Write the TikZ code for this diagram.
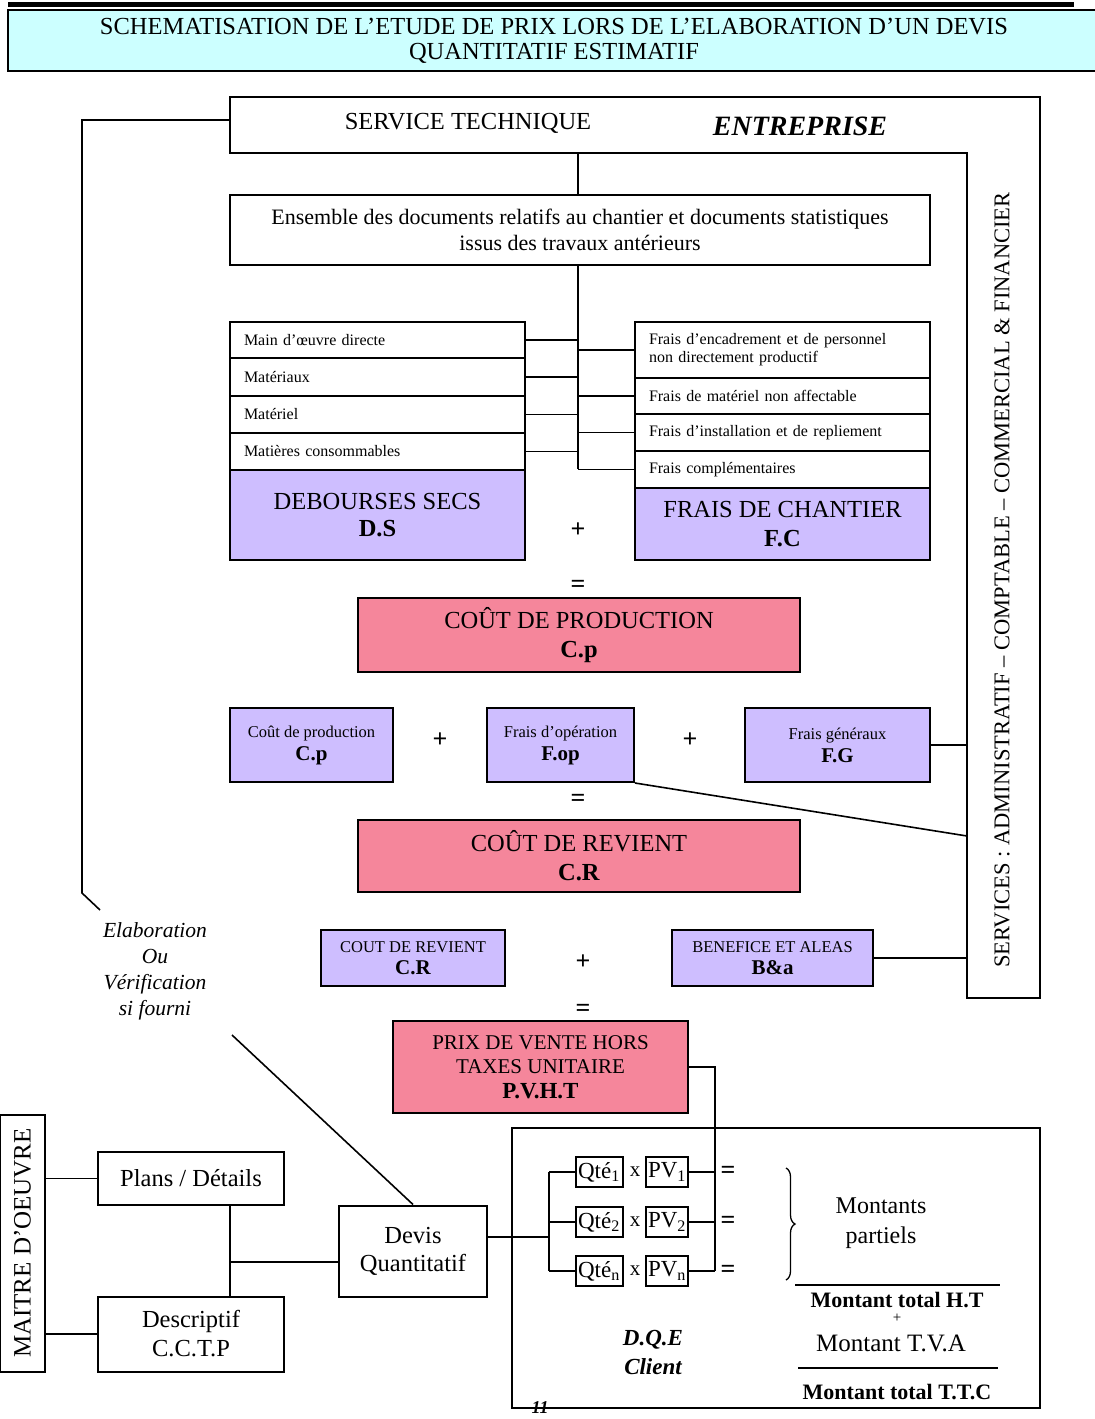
\documentclass[tikz,border=0pt]{standalone}
\usepackage{fontspec}
\setmainfont{Liberation Serif}
\usetikzlibrary{decorations.pathreplacing}
\definecolor{titlecyan}{RGB}{204,255,255}
\definecolor{lilac}{RGB}{206,190,255}
\definecolor{rose}{RGB}{245,134,155}
\newcommand\fsz[2]{\fontsize{#1}{#2}\selectfont}
\tikzset{
  box/.style={draw, line width=2pt, inner sep=0pt, align=center},
  item/.style={box, text width=267pt, inner xsep=14pt, align=left, font=\fsz{16}{18}},
  lilacbox/.style={box, fill=lilac},
  rosebox/.style={box, fill=rose},
  wire/.style={line width=1.6pt},
  sign/.style={inner sep=0pt, font=\fsz{26}{28}\bfseries},
  label/.style={inner sep=0pt, align=center},
}
\begin{document}
\begin{tikzpicture}[x=1pt,y=1pt,yscale=-1]
\useasboundingbox (0,0) rectangle (1095,1419);
%title
\draw[line width=5pt] (8,4) -- (1074,4);
\node[box, fill=titlecyan, minimum width=1092pt, minimum height=61pt, font=\fsz{24.5}{25}] (title) at (554,40.5)
  {SCHEMATISATION DE L'ETUDE DE PRIX LORS DE L'ELABORATION D'UN DEVIS\\QUANTITATIF ESTIMATIF};

%entreprise
\draw[line width=2pt] (230,97) -- (1040,97) -- (1040,998) -- (967,998) -- (967,153) -- (230,153) -- cycle;
\node[font=\fsz{24.5}{26}] (tech) at (468,123) {SERVICE TECHNIQUE};
\node[font=\fsz{28}{30}\bfseries\itshape] (entr) at (800,126) {ENTREPRISE};
\node[font=\fsz{22.5}{24}] (serv) at (1002,580)
  {\rotatebox{90}{SERVICES : ADMINISTRATIF – COMPTABLE – COMMERCIAL \& FINANCIER}};
\coordinate (techL) at (230,120);
\coordinate (techB) at (578,153);
\coordinate (svcA) at (967,836);

%left return line
\coordinate (kink) at (82,893);
\coordinate (elabA) at (100,910);
\draw[wire] (techL) -| (kink) -- (elabA);

%documents
\node[box, minimum width=700pt, minimum height=70pt, font=\fsz{22}{26}] (docs) at (580,230)
  {Ensemble des documents relatifs au chantier et documents statistiques\\issus des travaux antérieurs};
\draw[wire] (techB) -- (techB |- docs.north);
\def\spx{578}
\coordinate (spine) at (\spx,469);
\draw[wire] (spine |- docs.south) -- (spine);

%debourses secs
\def\dsx{377.5}
\node[item, minimum height=36pt] (ds1) at (\dsx,340) {Main d’œuvre directe};
\node[item, minimum height=38pt] (ds2) at (\dsx,377) {Matériaux};
\node[item, minimum height=37pt] (ds3) at (\dsx,414.5) {Matériel};
\node[item, minimum height=37pt] (ds4) at (\dsx,451.5) {Matières consommables};
\node[lilacbox, minimum width=295pt, minimum height=90pt, font=\fsz{24.5}{27}] (ds) at (\dsx,515)
  {DEBOURSES SECS\\\textbf{D.S}};

%frais de chantier
\def\fcx{782.5}
\node[item, minimum height=56pt] (fc1) at (\fcx,350)
  {Frais d’encadrement et de personnel\\non directement productif};
\node[item, minimum height=36pt] (fc2) at (\fcx,396) {Frais de matériel non affectable};
\node[item, minimum height=37pt] (fc3) at (\fcx,432.5) {Frais d’installation et de repliement};
\node[item, minimum height=37pt] (fc4) at (\fcx,469.5) {Frais complémentaires};
\node[lilacbox, minimum width=295pt, minimum height=72pt, font=\fsz{24.5}{29}] (fc) at (\fcx,524)
  {FRAIS DE CHANTIER\\\textbf{F.C}};
\foreach \i in {1,...,4} {
  \draw[wire] (ds\i.east) -- (ds\i.east -| spine);
  \draw[wire] (fc\i.west -| spine) -- (fc\i.west);
}
\node[sign] (plusA) at (578,530) {+};
\node[sign] (eqA) at (578,586) {=};

%cout de production
\node[rosebox, minimum width=442pt, minimum height=74pt, font=\fsz{24.5}{29}] (cp) at (579,635)
  {COÛT DE PRODUCTION\\\textbf{C.p}};

%cp + fop + fg
\node[lilacbox, minimum width=163pt, minimum height=74pt, font=\fsz{16.5}{23}] (cpb) at (311.5,745)
  {Coût de production\\{\fsz{21}{23}\bfseries C.p}};
\node[sign] (plusB) at (440,740) {+};
\node[lilacbox, minimum width=147pt, minimum height=74pt, font=\fsz{16.5}{23}] (fop) at (560.5,745)
  {Frais d’opération\\{\fsz{21}{23}\bfseries F.op}};
\node[sign] (plusC) at (690,740) {+};
\node[lilacbox, minimum width=185pt, minimum height=74pt, font=\fsz{16.5}{23}] (fg) at (837.5,745)
  {Frais généraux\\{\fsz{21}{23}\bfseries F.G}};
\draw[wire] (fg.east) -- (fg.east -| svcA);
\draw[wire] (fop.south east) -- (svcA);
\node[sign] (eqB) at (578,800) {=};

%cout de revient
\node[rosebox, minimum width=442pt, minimum height=72pt, font=\fsz{24.5}{29}] (cr) at (579,856)
  {COÛT DE REVIENT\\\textbf{C.R}};

%cr + b&a
\node[lilacbox, minimum width=184pt, minimum height=56pt, font=\fsz{16.5}{22}] (crb) at (413,958)
  {COUT DE REVIENT\\{\fsz{21}{22}\bfseries C.R}};
\node[sign] (plusD) at (583,962) {+};
\node[lilacbox, minimum width=201pt, minimum height=56pt, font=\fsz{16.5}{22}] (ba) at (772.5,958)
  {BENEFICE ET ALEAS\\{\fsz{21}{22}\bfseries B\&a}};
\draw[wire] (ba.east) -- (ba.east -| svcA);
\node[sign] (eqC) at (583,1010) {=};

%prix de vente
\node[rosebox, minimum width=295pt, minimum height=92pt, font=\fsz{21}{24.5}] (pvht) at (540.5,1067)
  {PRIX DE VENTE HORS\\TAXES UNITAIRE\\{\fsz{23}{24.5}\bfseries P.V.H.T}};

%maitre d'oeuvre
\node[label, font=\fsz{21.5}{26}\itshape] (elab) at (155,971) {Elaboration\\Ou\\Vérification\\si fourni};
\coordinate (elabB) at (232,1035);
\node[box, minimum width=45pt, minimum height=257pt, font=\fsz{25}{26}] (mo) at (22.5,1243)
  {\rotatebox{90}{MAITRE D'OEUVRE}};
\node[box, minimum width=186pt, minimum height=53pt, font=\fsz{24.5}{28}] (plans) at (191,1178.5) {Plans / Détails};
\node[box, minimum width=186pt, minimum height=75pt, font=\fsz{24.5}{29}] (desc) at (191,1334) {Descriptif\\C.C.T.P};
\node[box, minimum width=148pt, minimum height=91pt, font=\fsz{24.5}{28}] (devis) at (413,1251) {Devis\\Quantitatif};
\draw[wire] (elabB) -- (devis.north);
\draw[wire] (plans.west -| mo.east) -- (plans.west);
\draw[wire] (desc.west -| mo.east) -- (desc.west);
\coordinate (pd) at (230,1262);
\draw[wire] (pd |- plans.south) -- (pd |- desc.north);
\draw[wire] (pd) -- (pd -| devis.west);

%D.Q.E
\node[box, minimum width=528pt, minimum height=280pt] (dqe) at (776,1268) {};
\coordinate (fork) at (549,1237);
\coordinate (vbus) at (715,1271);
\draw[wire] (fork -| devis.east) -- (fork);
\foreach \i/\y in {1/1172, 2/1222, n/1271} {
  \node[box, minimum width=47pt, minimum height=30pt, font=\fsz{23}{24}] (qte\i) at (599,\y) {Qté\textsubscript{\i}};
  \node[sign, font=\fsz{21}{22}] (x\i) at (635,\y) {x};
  \node[box, minimum width=42pt, minimum height=30pt, font=\fsz{23}{24}] (pv\i) at (667,\y) {PV\textsubscript{\i}};
  \node[sign] (equ\i) at (728,\y) {=};
  \draw[wire] (fork |- qte\i.west) -- (qte\i.west);
  \draw[wire] (pv\i.east) -- (pv\i.east -| vbus);
}
\draw[wire] (qte1.west -| fork) -- (qten.west -| fork);
\draw[wire] (pvht.east) -| (vbus);
\draw[line width=1.3pt, decorate, decoration={brace, amplitude=9pt}] (786,1168) -- (786,1280);
\node[label, font=\fsz{24}{30}] (partiel) at (881,1223) {Montants\\partiels};
\draw[line width=1.8pt] (795,1285) -- (1000,1285);
\node[label, font=\fsz{22}{24}\bfseries] (totht) at (897,1300) {Montant total H.T};
\node[label, font=\fsz{15}{16}] (plusT) at (897,1318) {+};
\node[label, font=\fsz{25}{26}] (tva) at (891,1343) {Montant T.V.A};
\draw[line width=1.8pt] (798,1368) -- (998,1368);
\node[label, font=\fsz{22}{24}\bfseries] (ttc) at (897,1392) {Montant total T.T.C};
\node[label, font=\fsz{23}{29}\bfseries\itshape] (client) at (653,1352) {D.Q.E\\Client};
\node[label, font=\fsz{18}{20}\bfseries\itshape] (page) at (540,1408) {11};
\end{tikzpicture}
\end{document}
